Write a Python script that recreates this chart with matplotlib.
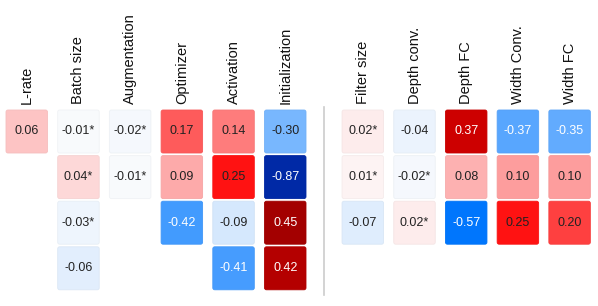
import matplotlib.pyplot as plt
from matplotlib.colors import LinearSegmentedColormap, Normalize
from matplotlib.patches import FancyBboxPatch

plt.rcParams['font.family'] = ['Liberation Sans', 'DejaVu Sans']

# column names, one list of values per column (top to bottom)
columns = ['L-rate', 'Batch size', 'Augmentation', 'Optimizer', 'Activation',
           'Initialization', 'Filter size', 'Depth conv.', 'Depth FC',
           'Width Conv.', 'Width FC']
values = [
    [0.06],
    [-0.01, 0.04, -0.03, -0.06],
    [-0.02, -0.01],
    [0.17, 0.09, -0.42],
    [0.14, 0.25, -0.09, -0.41],
    [-0.30, -0.87, 0.45, 0.42],
    [0.02, 0.01, -0.07],
    [-0.04, -0.02, 0.02],
    [0.37, 0.08, -0.57],
    [-0.37, 0.10, 0.25],
    [-0.35, 0.10, 0.20],
]
# marked with an asterisk
starred = [
    [False],
    [True, True, True, False],
    [True, True],
    [False, False, False],
    [False, False, False, False],
    [False, False, False, False],
    [True, True, False],
    [False, True, True],
    [False, False, False],
    [False, False, False],
    [False, False, False],
]
n_left = 6  # columns before the divider


def main():
    vmin, vmax = -0.9, 0.9
    anchors = [(-0.9, (0.0, 0.13, 0.62)), (-0.57, (0.0, 0.47, 1.0)),
               (0.0, (0.99, 0.99, 0.99)), (0.27, (1.0, 0.0, 0.0)),
               (0.5, (0.55, 0.0, 0.0)), (0.9, (0.3, 0.0, 0.0))]
    cmap = LinearSegmentedColormap.from_list(
        'corr', [((v - vmin) / (vmax - vmin), c) for v, c in anchors])
    norm = Normalize(vmin, vmax)

    fig = plt.figure(figsize=(5.98, 3.06), dpi=100)
    ax = fig.add_axes([0, 0, 1, 1])
    ax.set_xlim(0, 598)
    ax.set_ylim(306, 0)
    ax.axis('off')

    x0, pitch_x, cell_w = 6, 51.7, 41.5
    y0, pitch_y, cell_h = 110, 45.6, 43

    for i, (name, col, stars) in enumerate(zip(columns, values, starred)):
        pos = i if i < n_left else i + 0.5
        left = x0 + pitch_x * pos
        cx = left + cell_w / 2
        ax.text(cx, y0 - 6, name, rotation=90, ha='center', va='bottom',
                fontsize=10.5, color='#111111')
        for j, (v, s) in enumerate(zip(col, stars)):
            top = y0 + pitch_y * j
            face = cmap(norm(v))
            edge = tuple(c * 0.97 for c in face[:3])
            box = FancyBboxPatch((left, top), cell_w, cell_h,
                                 boxstyle='round,pad=0,rounding_size=2',
                                 facecolor=face, edgecolor=edge, linewidth=0.6)
            ax.add_patch(box)
            label = f'{v:.2f}' + ('*' if s else '')
            tc = 'white' if abs(v) >= 0.33 else '#222222'
            ax.text(cx, top + cell_h / 2, label, ha='center', va='center',
                    fontsize=9, color=tc)

    # divider between the two groups
    div_x = x0 + pitch_x * (n_left - 1) + cell_w + (pitch_x * 1.5 - cell_w) / 2
    ax.plot([div_x, div_x], [107, 295], color='#cccccc', linewidth=1.2)

    fig.savefig('out.png', dpi=100)


if __name__ == '__main__':
    main()
